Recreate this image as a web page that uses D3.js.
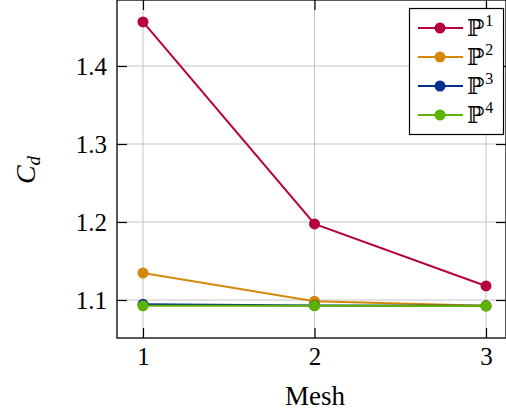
<!DOCTYPE html>
<html><head><meta charset="utf-8">
<script src="https://cdn.jsdelivr.net/npm/d3@7"></script>
<style>body{margin:0;background:#fff}svg{display:block}text{font-family:"Liberation Serif","DejaVu Serif",serif;fill:#000}</style>
</head><body>
<svg id="c" width="506" height="412"></svg>
<script>
const meshes = [1, 2, 3];
const seriesNames = ["1", "2", "3", "4"];
const p1 = [1.4565, 1.1975, 1.118];
const p2 = [1.1345, 1.0985, 1.0925];
const p3 = [1.0945, 1.0930, 1.0925];
const p4 = [1.0925, 1.0925, 1.0922];
const colors = ["#b7003f", "#d4880a", "#00308c", "#5cb300"];
const yTicks = [1.1, 1.2, 1.3, 1.4];
const xTicks = [1, 2, 3];
const series = [p1, p2, p3, p4];

const svg = d3.select("#c");
const L = 117, R = 506, T = 0, B = 338;
const xs = d3.scaleLinear().domain([1, 3]).range([143, 486]);
const ys = d3.scaleLinear().domain([1.1, 1.4]).range([300, 66]);

const g = svg.append("g");
g.selectAll(".gx").data(xTicks).join("line").attr("x1", d => xs(d)).attr("x2", d => xs(d))
  .attr("y1", T).attr("y2", B).attr("stroke", "#c4c4c4").attr("stroke-width", 1);
g.selectAll(".gy").data(yTicks).join("line").attr("y1", d => ys(d)).attr("y2", d => ys(d))
  .attr("x1", L).attr("x2", R).attr("stroke", "#c4c4c4").attr("stroke-width", 1);

const xAxis = d3.axisBottom(xs).tickValues(xTicks).tickSize(-10).tickPadding(9).tickFormat(d3.format("d"));
const gx = svg.append("g").attr("transform", `translate(0,${B})`).call(xAxis);
gx.attr("font-size", null).attr("font-family", null);
gx.select(".domain").remove();
gx.selectAll("text").attr("font-size", 25).attr("font-family", "Liberation Serif");
gx.selectAll("line").attr("stroke", "#000").attr("stroke-width", 1.2);
const gxt = svg.append("g").attr("transform", `translate(0,${T})`)
  .call(d3.axisTop(xs).tickValues(xTicks).tickSize(-10).tickFormat(""));
gxt.select(".domain").remove();
gxt.selectAll("line").attr("stroke", "#000").attr("stroke-width", 1.2);

const yAxis = d3.axisLeft(ys).tickValues(yTicks).tickSize(-10).tickPadding(10).tickFormat(d3.format(".1f"));
const gy = svg.append("g").attr("transform", `translate(${L},0)`).call(yAxis);
gy.attr("font-size", null).attr("font-family", null);
gy.select(".domain").remove();
gy.selectAll("text").attr("font-size", 25).attr("font-family", "Liberation Serif");
gy.selectAll("line").attr("stroke", "#000").attr("stroke-width", 1.2);
const gyr = svg.append("g").attr("transform", `translate(${R},0)`)
  .call(d3.axisRight(ys).tickValues(yTicks).tickSize(-10).tickFormat(""));
gyr.select(".domain").remove();
gyr.selectAll("line").attr("stroke", "#000").attr("stroke-width", 1.2);

svg.append("rect").attr("x", L).attr("y", T).attr("width", R - L).attr("height", B - T)
  .attr("fill", "none").attr("stroke", "#000").attr("stroke-width", 1.3);

const line = d3.line().x((d, i) => xs(meshes[i])).y(d => ys(d));
series.forEach((s, k) => {
  svg.append("path").attr("d", line(s)).attr("fill", "none").attr("stroke", colors[k]).attr("stroke-width", 2);
  svg.selectAll(null).data(s).join("circle").attr("cx", (d, i) => xs(meshes[i])).attr("cy", d => ys(d))
    .attr("r", 5.5).attr("fill", colors[k]);
});

const lg = svg.append("g");
lg.append("rect").attr("x", 409.5).attr("y", 8.5).attr("width", 94).attr("height", 126)
  .attr("fill", "#fff").attr("stroke", "#000").attr("stroke-width", 1.2);
seriesNames.forEach((n, k) => {
  const yy = 28 + k * 29;
  lg.append("line").attr("x1", 418).attr("x2", 463).attr("y1", yy).attr("y2", yy)
    .attr("stroke", colors[k]).attr("stroke-width", 2);
  lg.append("circle").attr("cx", 440).attr("cy", yy).attr("r", 5.5).attr("fill", colors[k]);
  const t = lg.append("text").attr("x", 467).attr("y", yy + 8).attr("font-size", 23);
  t.append("tspan").text("ℙ").attr("font-family", "DejaVu Serif").attr("font-size", 23);
  t.append("tspan").text(n).attr("font-size", 16).attr("dy", -10).attr("dx", 1);
});

svg.append("text").attr("x", 315).attr("y", 405).attr("text-anchor", "middle").attr("font-size", 27).text("Mesh");
const yl = svg.append("text").attr("transform", "translate(35,170) rotate(-90)").attr("text-anchor", "middle").attr("font-size", 28);
yl.append("tspan").text("C").attr("font-style", "italic");
yl.append("tspan").text("d").attr("font-style", "italic").attr("font-size", 19).attr("dy", 5);
</script>
</body></html>
